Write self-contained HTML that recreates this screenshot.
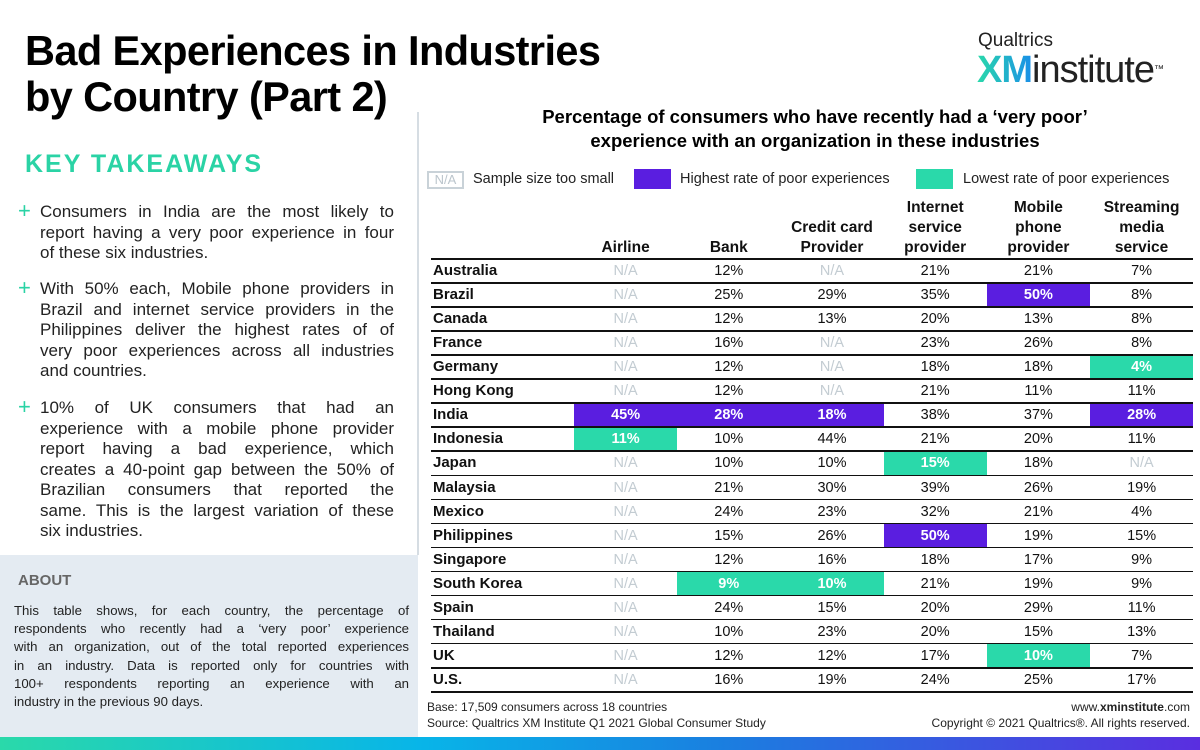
<!DOCTYPE html>
<html><head><meta charset="utf-8"><style>
*{margin:0;padding:0;box-sizing:border-box}
body{width:1200px;height:750px;position:relative;background:#fff;font-family:"Liberation Sans",sans-serif;overflow:hidden;color:#111}
.abs{position:absolute}
h1{position:absolute;left:25px;top:28px;font-size:41.5px;line-height:46px;font-weight:bold;letter-spacing:-0.6px;color:#000}
.kt{left:25px;top:150px;font-size:25px;font-weight:bold;color:#2ad3a5;letter-spacing:2px}
.tk{left:40px;width:354px;font-size:17px;line-height:20.5px;color:#222}
.tk div,.ab div{text-align:justify;text-align-last:justify;white-space:nowrap}
.tk div.l,.ab div.l{text-align-last:left}
.plus{left:18px;color:#2ad3a5;font-size:22px;line-height:20px}
.about{left:0;top:555px;width:418px;height:182px;background:#e4ebf2}
.cell{position:absolute;text-align:center;font-size:14.5px}
.hdr{position:absolute;text-align:center;font-size:15.5px;font-weight:bold;line-height:20px}
</style></head><body>
<h1>Bad Experiences in Industries<br>by Country (Part 2)</h1>
<div class="abs" style="left:417px;top:112px;width:2px;height:443px;background:#d6dde3"></div>
<div class="abs kt">KEY TAKEAWAYS</div>
<div class="abs plus" style="top:201px">+</div>
<div class="abs tk" style="top:202px"><div>Consumers in India are the most likely to</div><div>report having a very poor experience in four</div><div class="l">of these six industries.</div></div>
<div class="abs plus" style="top:278px">+</div>
<div class="abs tk" style="top:279px"><div>With 50% each, Mobile phone providers in</div><div>Brazil and internet service providers in the</div><div>Philippines deliver the highest rates of of</div><div>very poor experiences across all industries</div><div class="l">and countries.</div></div>
<div class="abs plus" style="top:397px">+</div>
<div class="abs tk" style="top:398px"><div>10% of UK consumers that had an</div><div>experience with a mobile phone provider</div><div>report having a bad experience, which</div><div>creates a 40-point gap between the 50% of</div><div>Brazilian consumers that reported the</div><div>same. This is the largest variation of these</div><div class="l">six industries.</div></div>
<div class="abs about">
<div class="abs" style="left:18px;top:17px;font-size:15px;font-weight:bold;color:#666">ABOUT</div>
<div class="abs ab" style="left:14px;top:47px;width:395px;font-size:13.2px;line-height:18.2px;color:#222"><div>This table shows, for each country, the percentage of</div><div>respondents who recently had a ‘very poor’ experience</div><div>with an organization, out of the total reported experiences</div><div>in an industry. Data is reported only for countries with</div><div>100+ respondents reporting an experience with an</div><div class="l">industry in the previous 90 days.</div></div>
</div>
<div class="abs" style="left:0;top:737px;width:1200px;height:13px;background:linear-gradient(90deg,#2ad9aa,#08b5e8 35%,#1a7fe0 60%,#5a2ee0)"></div>
<div class="abs" style="left:978px;top:30px;font-size:19px;color:#222">Qualtrics</div>
<div class="abs" style="left:977px;top:50px;font-size:38px;line-height:40px;color:#222;letter-spacing:-1px"><b style="background:linear-gradient(90deg,#2ad9aa,#1a8fe8);-webkit-background-clip:text;color:transparent">XM</b>institute<sup style="font-size:10px;vertical-align:top">™</sup></div>
<div class="abs" style="left:440px;top:105px;width:750px;text-align:center;font-size:18.5px;font-weight:bold;line-height:24px;color:#000">Percentage of consumers who have recently had a ‘very poor’<br>experience with an organization in these industries</div>
<div class="abs" style="left:427px;top:171px;width:37px;height:18px;border:2px solid #c9d2d8;color:#bbc5cc;font-size:13px;text-align:center;line-height:14px">N/A</div>
<div class="abs" style="left:473px;top:171px;font-size:14.5px;color:#222">Sample size too small</div>
<div class="abs" style="left:634px;top:169px;width:37px;height:20px;background:#5a1ee0"></div>
<div class="abs" style="left:680px;top:171px;font-size:14.5px;color:#222">Highest rate of poor experiences</div>
<div class="abs" style="left:916px;top:169px;width:37px;height:20px;background:#2ad9aa"></div>
<div class="abs" style="left:963px;top:171px;font-size:14.5px;color:#222">Lowest rate of poor experiences</div>
<div id="tbl"></div>
<div class="abs" style="left:427px;top:699px;font-size:12px;line-height:16px;color:#222">Base: 17,509 consumers across 18 countries<br>Source: Qualtrics XM Institute Q1 2021 Global Consumer Study</div>
<div class="abs" style="right:10px;top:699px;font-size:12px;line-height:16px;color:#222;text-align:right">www.<b>xminstitute</b>.com<br>Copyright © 2021 Qualtrics®. All rights reserved.</div>
<script>
const industries=["Airline","Bank","Credit card<br>Provider","Internet<br>service<br>provider","Mobile<br>phone<br>provider","Streaming<br>media<br>service"];
const countries=["Australia","Brazil","Canada","France","Germany","Hong Kong","India","Indonesia","Japan","Malaysia","Mexico","Philippines","Singapore","South Korea","Spain","Thailand","UK","U.S."];
const airline=[null,null,null,null,null,null,45,11,null,null,null,null,null,null,null,null,null,null];
const bank=[12,25,12,16,12,12,28,10,10,21,24,15,12,9,24,10,12,16];
const creditCard=[null,29,13,null,null,null,18,44,10,30,23,26,16,10,15,23,12,19];
const internet=[21,35,20,23,18,21,38,21,15,39,32,50,18,21,20,20,17,24];
const mobile=[21,50,13,26,18,11,37,20,18,26,21,19,17,19,29,15,10,25];
const streaming=[7,8,8,8,4,11,28,11,null,19,4,15,9,9,11,13,7,17];
const highlights=[["India",0,"hi"],["India",1,"hi"],["India",2,"hi"],["India",5,"hi"],["Brazil",4,"hi"],["Philippines",3,"hi"],["Indonesia",0,"lo"],["South Korea",1,"lo"],["South Korea",2,"lo"],["Japan",3,"lo"],["Germany",5,"lo"],["UK",4,"lo"]];
const series=[airline,bank,creditCard,internet,mobile,streaming];
const T=document.getElementById('tbl');
const X0=431,X1=1193,C0=574,CW=103.2,Y0=259,RH=24.06;
const colX=i=>C0+i*CW, rowY=j=>Y0+j*RH;
function add(css,html){const d=document.createElement('div');d.style.cssText='position:absolute;'+css;if(html!==undefined)d.innerHTML=html;T.appendChild(d);return d;}
industries.forEach((h,i)=>{const d=add(`left:${colX(i)}px;width:${CW}px;bottom:${750-Y0+1}px;`,h);d.className='hdr';

});
countries.forEach((c,j)=>{
 const y=rowY(j);
 const ln=add(`left:${X0}px;top:${y-1}px;width:${X1-X0}px;height:${j==0?2:1.5}px;background:#111`);
 
 
 const lb=add(`left:433px;top:${y+3}px;font-size:15px;font-weight:bold;color:#111`,c);
 
 
 series.forEach((s,i)=>{
  const h=highlights.find(k=>k[0]===c&&k[1]===i);
  if(h){const b=add(`left:${colX(i)}px;top:${y+0.5}px;width:${CW}px;height:${RH-1.5}px;background:${h[2]=='hi'?'#5a1ee0':'#2ad9aa'}`);
   
   }
  const v=s[j];
  const t=add(`left:${colX(i)}px;width:${CW}px;top:${y+4}px;${v===null?'color:#c3ccd2;':''}${h?'color:#fff;font-weight:bold;':''}`,v===null?'N/A':v+'%');
  t.className='cell';
  
  
 });
});
const bl=add(`left:${X0}px;top:${rowY(countries.length)-1}px;width:${X1-X0}px;height:1.5px;background:#111`);


</script>
</body></html>
